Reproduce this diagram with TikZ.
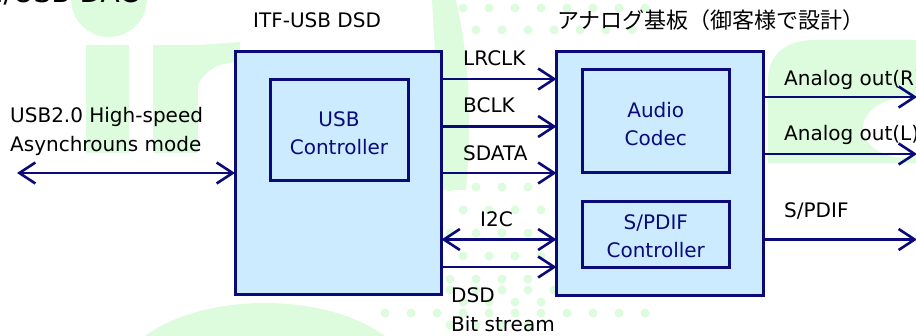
\documentclass[tikz,border=0pt]{standalone}
\usepackage{fontspec}
\setmainfont{DejaVu Sans}
\newfontfamily\jpfont{Noto Sans CJK JP}
\usetikzlibrary{arrows.meta}
\definecolor{dnavy}{HTML}{0A0A78}
\definecolor{boxfill}{HTML}{CCEBFF}
\definecolor{wm}{HTML}{DDFCDD}
\newcommand{\topstrut}{\rule{0pt}{20.5pt}}
\tikzset{
  blk/.style={draw=dnavy, fill=boxfill, line width=3pt, inner sep=0pt, outer sep=0pt},
  inblk/.style={blk, text=dnavy, align=center, font=\fontsize{20}{28}\selectfont},
  sig/.style={draw=dnavy, line width=2.6pt, -{Straight Barb[length=16pt,width=21pt]}},
  bisig/.style={draw=dnavy, line width=2.6pt, {Straight Barb[length=16pt,width=21pt]}-{Straight Barb[length=16pt,width=21pt]}},
  lbl/.style={anchor=base west, inner sep=0pt, font=\fontsize{20}{24}\selectfont}
}
\begin{document}
\begin{tikzpicture}[x=1pt,y=-1pt]
\useasboundingbox (0,0) rectangle (916,335);
% watermark (background)
\begin{scope}
\clip (0,0) rectangle (916,335);
\fill[wm] (109,-1) circle[radius=38pt];
\fill[wm] (86,45) rectangle (129,153);
\fill[wm] (153,45) rectangle (198,153);
\fill[wm] (198,45) -- (240,42) -- (240,62) .. controls (220,62) and (205,70) .. (198,85) -- cycle;
\fill[wm] (265,385) ellipse[x radius=150pt, y radius=82pt];
\fill[wm] (432,0) -- (456,0) .. controls (470,60) and (472,130) .. (466,190) -- (443,190) -- cycle;
\fill[wm,even odd rule] (768,163) -- (768,80) .. controls (768,55) and (785,40) .. (815,40) -- (916,40) -- (916,163) -- cycle
  (905,128) ellipse[x radius=42pt, y radius=30pt];
\foreach \r in {0,...,6}{
  \pgfmathsetmacro{\yy}{187+23*\r}
  \pgfmathsetmacro{\off}{mod(\r,2)*13}
  \foreach \c in {0,...,3}{
    \fill[wm] ({450+\off+26*\c},\yy) circle[radius=4.5pt];
  }
}
\foreach \r in {0,1}{
  \pgfmathsetmacro{\yy}{290+23*\r}
  \pgfmathsetmacro{\off}{mod(\r,2)*13}
  \foreach \c in {0,...,10}{
    \fill[wm] ({372+\off+26*\c},\yy) circle[radius=4.5pt];
  }
}
\foreach \r in {0,1}{
  \pgfmathsetmacro{\yy}{8+22*\r}
  \pgfmathsetmacro{\off}{mod(\r+1,2)*13}
  \foreach \c in {0,...,7}{
    \fill[wm] ({450+\off+26*\c},\yy) circle[radius=4.5pt];
  }
}
\end{scope}
% coordinates for signal rows
\coordinate (yLR) at (0,79);
\coordinate (yBC) at (0,126.5);
\coordinate (ySD) at (0,173);
\coordinate (yIC) at (0,239.5);
\coordinate (yDS) at (0,267);
\coordinate (yAR) at (0,97);
\coordinate (yAL) at (0,154);
\coordinate (ySP) at (0,239.5);
\coordinate (usbend) at (17,173);
\coordinate (outR) at (917,97);
\coordinate (outL) at (917,154);
\coordinate (outS) at (917,239.5);
% blocks
\node[blk, minimum width=206.5pt, minimum height=242.5pt] (itf) at (338.25,172.75) {};
\node[blk, minimum width=207pt, minimum height=243.5pt] (board) at (660,173.25) {};
\node[inblk, minimum width=138pt, minimum height=101pt] (usbc) at (339,130) {\topstrut USB\\Controller};
\node[inblk, minimum width=147.5pt, minimum height=103.2pt] (codec) at (655.75,121.1) {\topstrut Audio\\Codec};
\node[inblk, minimum width=147.5pt, minimum height=65.7pt] (spdif) at (655.75,234.15) {\rule{0pt}{19pt}S/PDIF\\Controller};
% connectors
\draw[bisig] (usbend) -- (itf.west |- ySD);
\draw[sig] (itf.east |- yLR) -- (board.west |- yLR);
\draw[sig] (itf.east |- yBC) -- (board.west |- yBC);
\draw[sig] (itf.east |- ySD) -- (board.west |- ySD);
\draw[bisig] (itf.east |- yIC) -- (board.west |- yIC);
\draw[sig] (itf.east |- yDS) -- (board.west |- yDS);
\draw[sig] (board.east |- yAR) -- (outR);
\draw[sig] (board.east |- yAL) -- (outL);
\draw[sig] (board.east |- ySP) -- (outS);
% labels
\node[anchor=base east, inner sep=0pt, font=\fontsize{28}{30}\selectfont] (ttl) at (139,2) {I/USB DAC};
\node[lbl] (titf) at (253,27) {ITF-USB DSD};
\node[lbl, font=\jpfont\fontsize{22}{24}\selectfont] (tboard) at (557,28) {アナログ基板（御客様で設計）};
\node[lbl] (tusb1) at (10,122) {USB2.0 High-speed};
\node[lbl] (tusb2) at (10,151) {Asynchrouns mode};
\node[lbl] (tlr) at (463,65) {LRCLK};
\node[lbl] (tbc) at (463,112) {BCLK};
\node[lbl] (tsd) at (463,160) {SDATA};
\node[lbl] (tic) at (480,226) {I2C};
\node[lbl] (tds1) at (451,302) {DSD};
\node[lbl] (tds2) at (451,331) {Bit stream};
\node[lbl] (tar) at (784,85) {Analog out(R)};
\node[lbl] (tal) at (784,140) {Analog out(L)};
\node[lbl] (tsp) at (784,217) {S/PDIF};
\end{tikzpicture}
\end{document}
